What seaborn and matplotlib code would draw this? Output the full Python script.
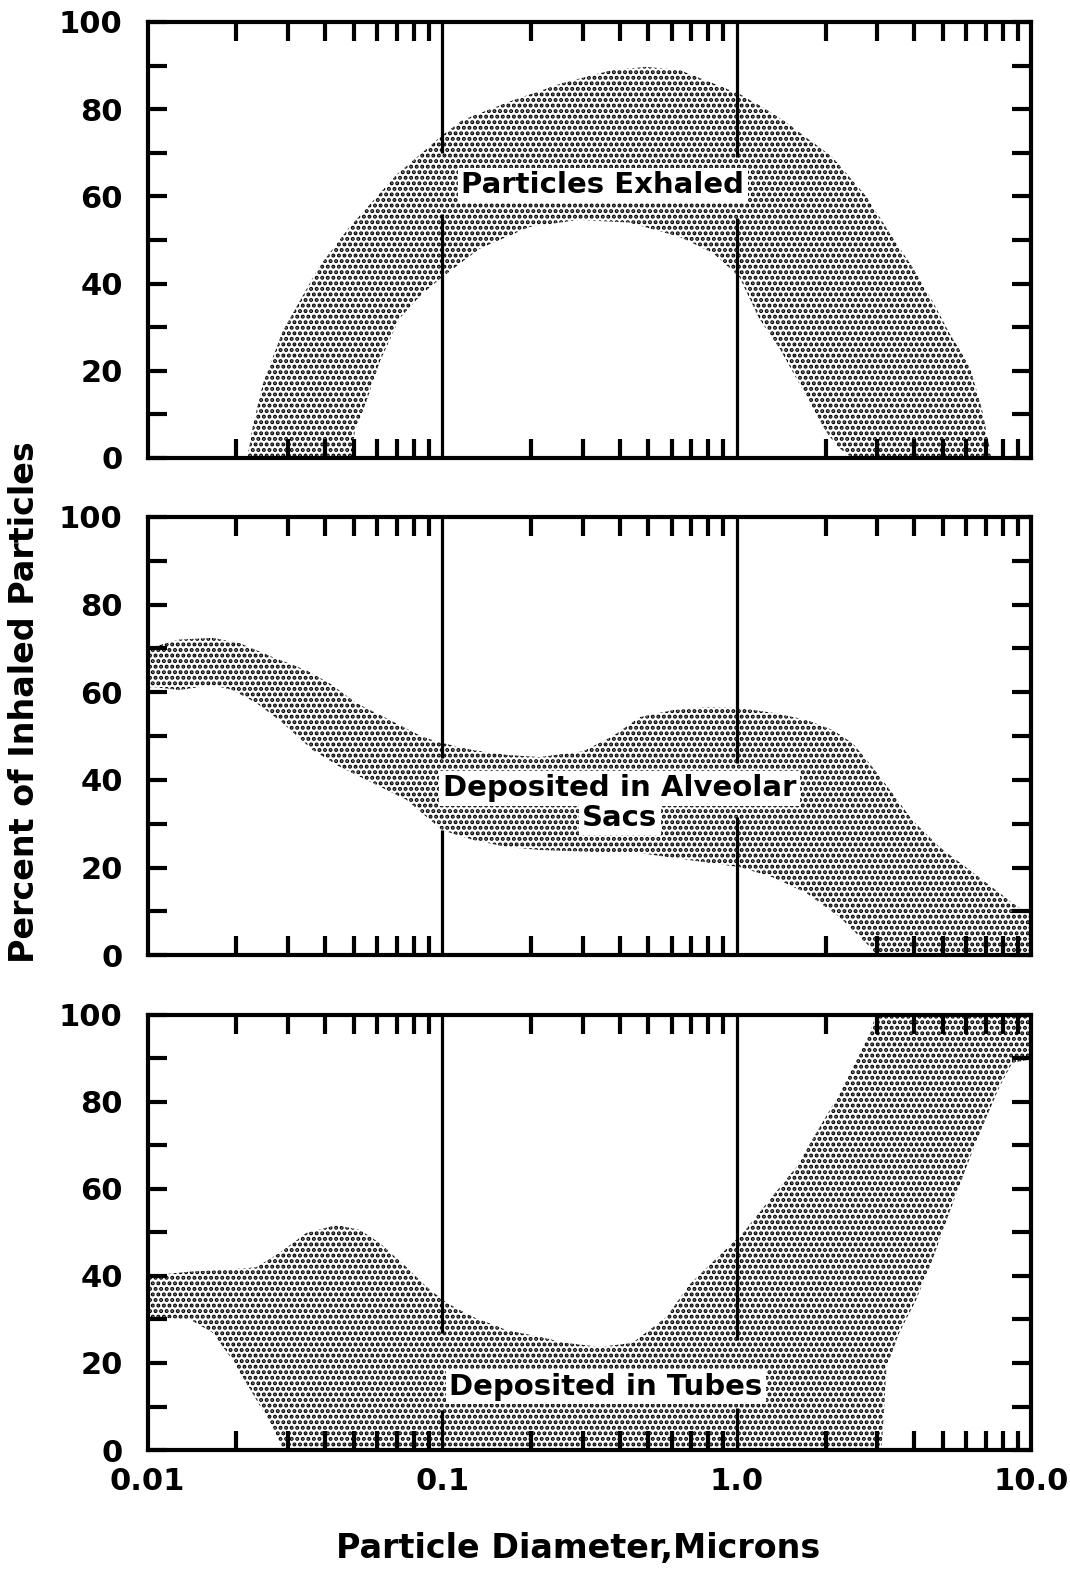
import numpy as np
import matplotlib
matplotlib.use('Agg')
import matplotlib.pyplot as plt
from matplotlib.ticker import FixedLocator, NullFormatter
import seaborn as sns

# =============================================================================
# Data (particle diameter in microns, percent)
# =============================================================================

# particles exhaled
exh_up_x = [0.0218, 0.0227, 0.0246, 0.0287, 0.0383, 0.0485, 0.07, 0.1, 0.117,
            0.173, 0.256, 0.378, 0.493, 0.638, 0.826, 1.02, 1.22, 1.47, 2.11,
            2.75, 3.3, 3.94, 4.61, 5.26, 6.17, 6.8, 7.2, 7.3]
exh_up_y = [0, 7, 17, 29, 44, 53, 65, 74, 77.5, 82, 86, 89, 89.7, 89, 86,
            83.5, 80.5, 77, 69, 60, 51.6, 43.8, 36, 28.7, 21, 11, 2.5, 0]
exh_lo_x = [0.0496, 0.0504, 0.0553, 0.0613, 0.0716, 0.085, 0.1, 0.134, 0.198,
            0.29, 0.43, 0.64, 0.83, 1.02, 1.19, 1.4, 1.63, 2.01, 2.2, 2.46]
exh_lo_y = [0, 6, 13, 22, 32, 37.5, 41.5, 48, 53, 54.6, 54, 50.7, 47, 41.5,
            32, 25, 17, 6, 2.5, 0]

# deposited in alveolar sacs
alv_up_x = [0.01, 0.0104, 0.0128, 0.0166, 0.0205, 0.0266, 0.0346, 0.0415,
            0.0512, 0.0662, 0.0857, 0.1, 0.127, 0.165, 0.214, 0.3, 0.38,
            0.467, 0.605, 0.788, 1.02, 1.32, 1.72, 2.11, 2.47, 2.88, 3.37,
            3.94, 4.87, 6.01, 7.36, 8.61, 9.6, 10]
alv_up_y = [70, 70.3, 72, 72.4, 71.2, 68, 65, 62, 57.5, 53.7, 49.8, 48.4, 46.8,
            45.7, 45.2, 46.5, 50, 54.3, 55.9, 56.6, 56.4, 55.3, 53.7, 51.4,
            48.4, 43, 37, 30.8, 24.7, 20, 15.5, 11.9, 9.8, 9.6]
alv_lo_x = [0.01, 0.0104, 0.0128, 0.0166, 0.0194, 0.0234, 0.0287, 0.0363,
            0.0448, 0.058, 0.0757, 0.1, 0.127, 0.165, 0.214, 0.342, 0.467,
            0.69, 1.02, 1.32, 1.72, 2.23, 2.75, 2.98, 10]
alv_lo_y = [61, 61.2, 60.5, 61.6, 60.5, 57.5, 53, 46.8, 43, 39.3, 35.4, 28.5,
            26.3, 24.7, 24, 23.5, 23.3, 21.7, 20.1, 17.8, 14.2, 8.7, 2.7, 0, 0]

# deposited in tubes
tub_up_x = [0.01, 0.0139, 0.018, 0.0234, 0.028, 0.0346, 0.0438, 0.0524,
            0.0613, 0.0757, 0.0885, 0.1035, 0.127, 0.165, 0.214, 0.264,
            0.342, 0.442, 0.577, 0.69, 0.85, 1.05, 1.29, 1.59, 1.86, 2.17,
            2.47, 2.82, 2.98, 10]
tub_up_y = [40, 41, 41.4, 42, 45.3, 49.9, 51.7, 50.6, 47.6, 42, 37.5, 33.8,
            30.6, 27.6, 26, 24.6, 23.7, 24.6, 30.6, 38, 44, 49.9, 57.5, 65,
            72.9, 80.5, 88, 95.9, 100, 100]
tub_lo_x = [0.01, 0.0139, 0.0166, 0.0194, 0.0227, 0.0266, 0.0287, 3.1, 3.22,
            3.56, 4.06, 4.61, 5.26, 6.01, 6.81, 7.78, 8.61, 9.84, 10]
tub_lo_y = [30.6, 30, 27, 20.7, 13, 5.3, 0, 0, 19, 27, 34.5, 43.7, 54.5, 65,
            74.3, 83.4, 89, 89.7, 89.7]

labels = ['Particles Exhaled', 'Deposited in Alveolar', 'Deposited in Tubes']
xtick_vals = [0.01, 0.1, 1.0, 10.0]
xtick_text = ['0.01', '0.1', '1.0', '10.0']
ytick_vals = [0, 20, 40, 60, 80, 100]

# =============================================================================
# Plot
# =============================================================================
sns.set_theme(style='ticks')
plt.rcParams['font.family'] = 'DejaVu Sans'
plt.rcParams['hatch.linewidth'] = 2.0
for key in ['text.color', 'axes.labelcolor', 'xtick.color', 'ytick.color',
            'axes.edgecolor']:
    plt.rcParams[key] = 'black'

fig = plt.figure(figsize=(10.7, 15.71), dpi=100)
boxes = [[0.138, 0.7085, 0.826, 0.2775],
         [0.138, 0.392, 0.826, 0.279],
         [0.138, 0.077, 0.826, 0.277]]

curves = [(exh_up_x, exh_up_y, exh_lo_x, exh_lo_y),
          (alv_up_x, alv_up_y, alv_lo_x, alv_lo_y),
          (tub_up_x, tub_up_y, tub_lo_x, tub_lo_y)]

# where the vertical guide lines are cut for the labels (lower, upper)
gaps = [[(56, 70), (55, 69)],
        [(28.5, 45), (31.5, 43.8)],
        [(9.2, 27), (9.7, 25.3)]]

for i, box in enumerate(boxes):
    ax = fig.add_axes(box)
    ax.set_xscale('log')
    ux, uy, lx, ly = curves[i]
    px = np.concatenate([ux, lx[::-1]])
    py = np.concatenate([uy, ly[::-1]])
    ax.fill(px, py, facecolor='none', edgecolor='black', hatch='...',
            linewidth=0, zorder=1)

    for xv, (g0, g1) in zip([0.1, 1.0], gaps[i]):
        ax.vlines(xv, 0, g0, color='black', lw=2.3, zorder=3)
        ax.vlines(xv, g1, 100, color='black', lw=2.3, zorder=3)

    ax.set_xlim(0.01, 10)
    ax.set_ylim(0, 100)
    ax.xaxis.set_major_locator(FixedLocator(xtick_vals))
    ax.xaxis.set_minor_locator(FixedLocator(
        [m * d for d in [0.01, 0.1, 1.0] for m in range(2, 10)]))
    ax.xaxis.set_minor_formatter(NullFormatter())
    ax.set_yticks(ytick_vals)
    ax.yaxis.set_minor_locator(FixedLocator([10, 30, 50, 70, 90]))
    if i == 2:
        ax.set_xticklabels(xtick_text)
    else:
        ax.set_xticklabels([])
    ax.set_yticklabels([str(v) for v in ytick_vals])

    ax.tick_params(which='both', direction='in', top=True, right=True,
                   width=3, length=14, color='black')
    ax.tick_params(axis='x', which='major', length=0, pad=12,
                   labelsize=22)
    ax.tick_params(axis='y', which='major', pad=18, labelsize=22)
    for lab in ax.get_xticklabels() + ax.get_yticklabels():
        lab.set_fontweight('bold')
    for sp in ax.spines.values():
        sp.set_linewidth(3)
        sp.set_color('black')
        sp.set_zorder(4)

    box_kw = dict(boxstyle='square,pad=0.12', fc='white', ec='none')
    txt_kw = dict(ha='center', va='center', fontsize=21, fontweight='bold',
                  bbox=box_kw, zorder=6)
    if i == 0:
        ax.text(0.35, 62.6, labels[0], **txt_kw)
    elif i == 1:
        ax.text(0.4, 38.1, labels[1], **txt_kw)
        ax.text(0.4, 31.3, 'Sacs', **txt_kw)
    else:
        ax.text(0.359, 14.5, labels[2], **txt_kw)

fig.text(0.023, 0.553, 'Percent of Inhaled Particles', rotation=90,
         ha='center', va='center', fontsize=24, fontweight='bold')
fig.text(0.54, 0.0146, 'Particle Diameter,Microns', ha='center',
         va='center', fontsize=24, fontweight='bold')

fig.savefig('out.png', dpi=100, facecolor='white')
